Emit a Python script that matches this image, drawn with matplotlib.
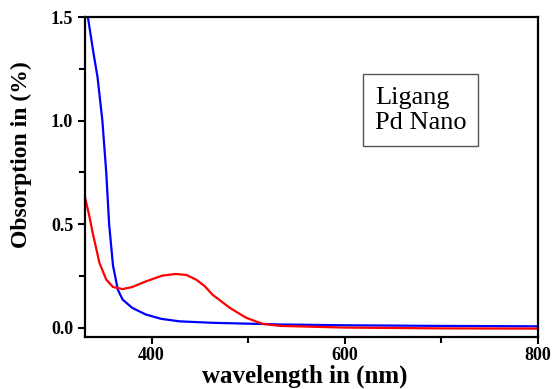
import matplotlib.pyplot as plt
from matplotlib.ticker import MultipleLocator

# wavelengths (nm) and absorbance
ligand_nm = [331, 334, 340, 344, 349, 353, 356, 360, 365, 370, 380, 394, 410, 429, 463, 533, 600, 700, 800]
ligand_abs = [1.58, 1.50, 1.32, 1.21, 1.00, 0.75, 0.50, 0.30, 0.183, 0.135, 0.095, 0.063, 0.042, 0.030, 0.023, 0.015, 0.011, 0.008, 0.006]

pd_nm = [330, 335, 339, 346, 353, 360, 370, 380, 394, 411, 425, 436, 446, 455, 463, 481, 498, 515, 533, 600, 700, 800]
pd_abs = [0.65, 0.55, 0.457, 0.312, 0.232, 0.196, 0.186, 0.196, 0.223, 0.251, 0.259, 0.254, 0.232, 0.20, 0.159, 0.095, 0.047, 0.018, 0.008, 0.0, -0.004, -0.005]

plt.rcParams['font.family'] = 'Liberation Serif'

fig = plt.figure(figsize=(5.54, 3.89), dpi=100)
ax = fig.add_axes([0.1534, 0.134, 0.8176, 0.822])

ax.plot(ligand_nm, ligand_abs, color='#0000ff', lw=1.6, label='Ligang')
ax.plot(pd_nm, pd_abs, color='#ff0000', lw=1.6, label='Pd Nano')

ax.set_xlim(331, 800)
ax.set_ylim(-0.045, 1.5)
ax.xaxis.set_major_locator(MultipleLocator(200))
ax.xaxis.set_minor_locator(MultipleLocator(100))
ax.yaxis.set_major_locator(MultipleLocator(0.5))
ax.yaxis.set_minor_locator(MultipleLocator(0.25))
ax.tick_params(which='both', direction='out', width=1.5, top=False, right=False)
ax.tick_params(which='major', length=5, labelsize=13)
ax.tick_params(which='minor', length=4)
ax.tick_params(axis='x', which='major', pad=2)
for lab in ax.get_xticklabels() + ax.get_yticklabels():
    lab.set_fontweight('bold')
for s in ax.spines.values():
    s.set_linewidth(1.6)

ax.set_xlabel('wavelength in (nm)', fontsize=18, fontweight='bold')
ax.set_ylabel('Obsorption in (%)', fontsize=17, fontweight='bold')
ax.xaxis.set_label_coords(0.485, -0.088)
ax.yaxis.set_label_coords(-0.118, 0.57)

leg = ax.legend(loc='upper left', bbox_to_anchor=(0.614, 0.822), handlelength=0, handletextpad=0,
                fontsize=19, frameon=True, fancybox=False, framealpha=1, borderpad=0.45,
                labelspacing=0.05, borderaxespad=0)
for h in leg.legend_handles:
    h.set_visible(False)
leg.get_frame().set_edgecolor('#555555')
leg.get_frame().set_linewidth(1.0)

plt.savefig('out.png', dpi=100)
